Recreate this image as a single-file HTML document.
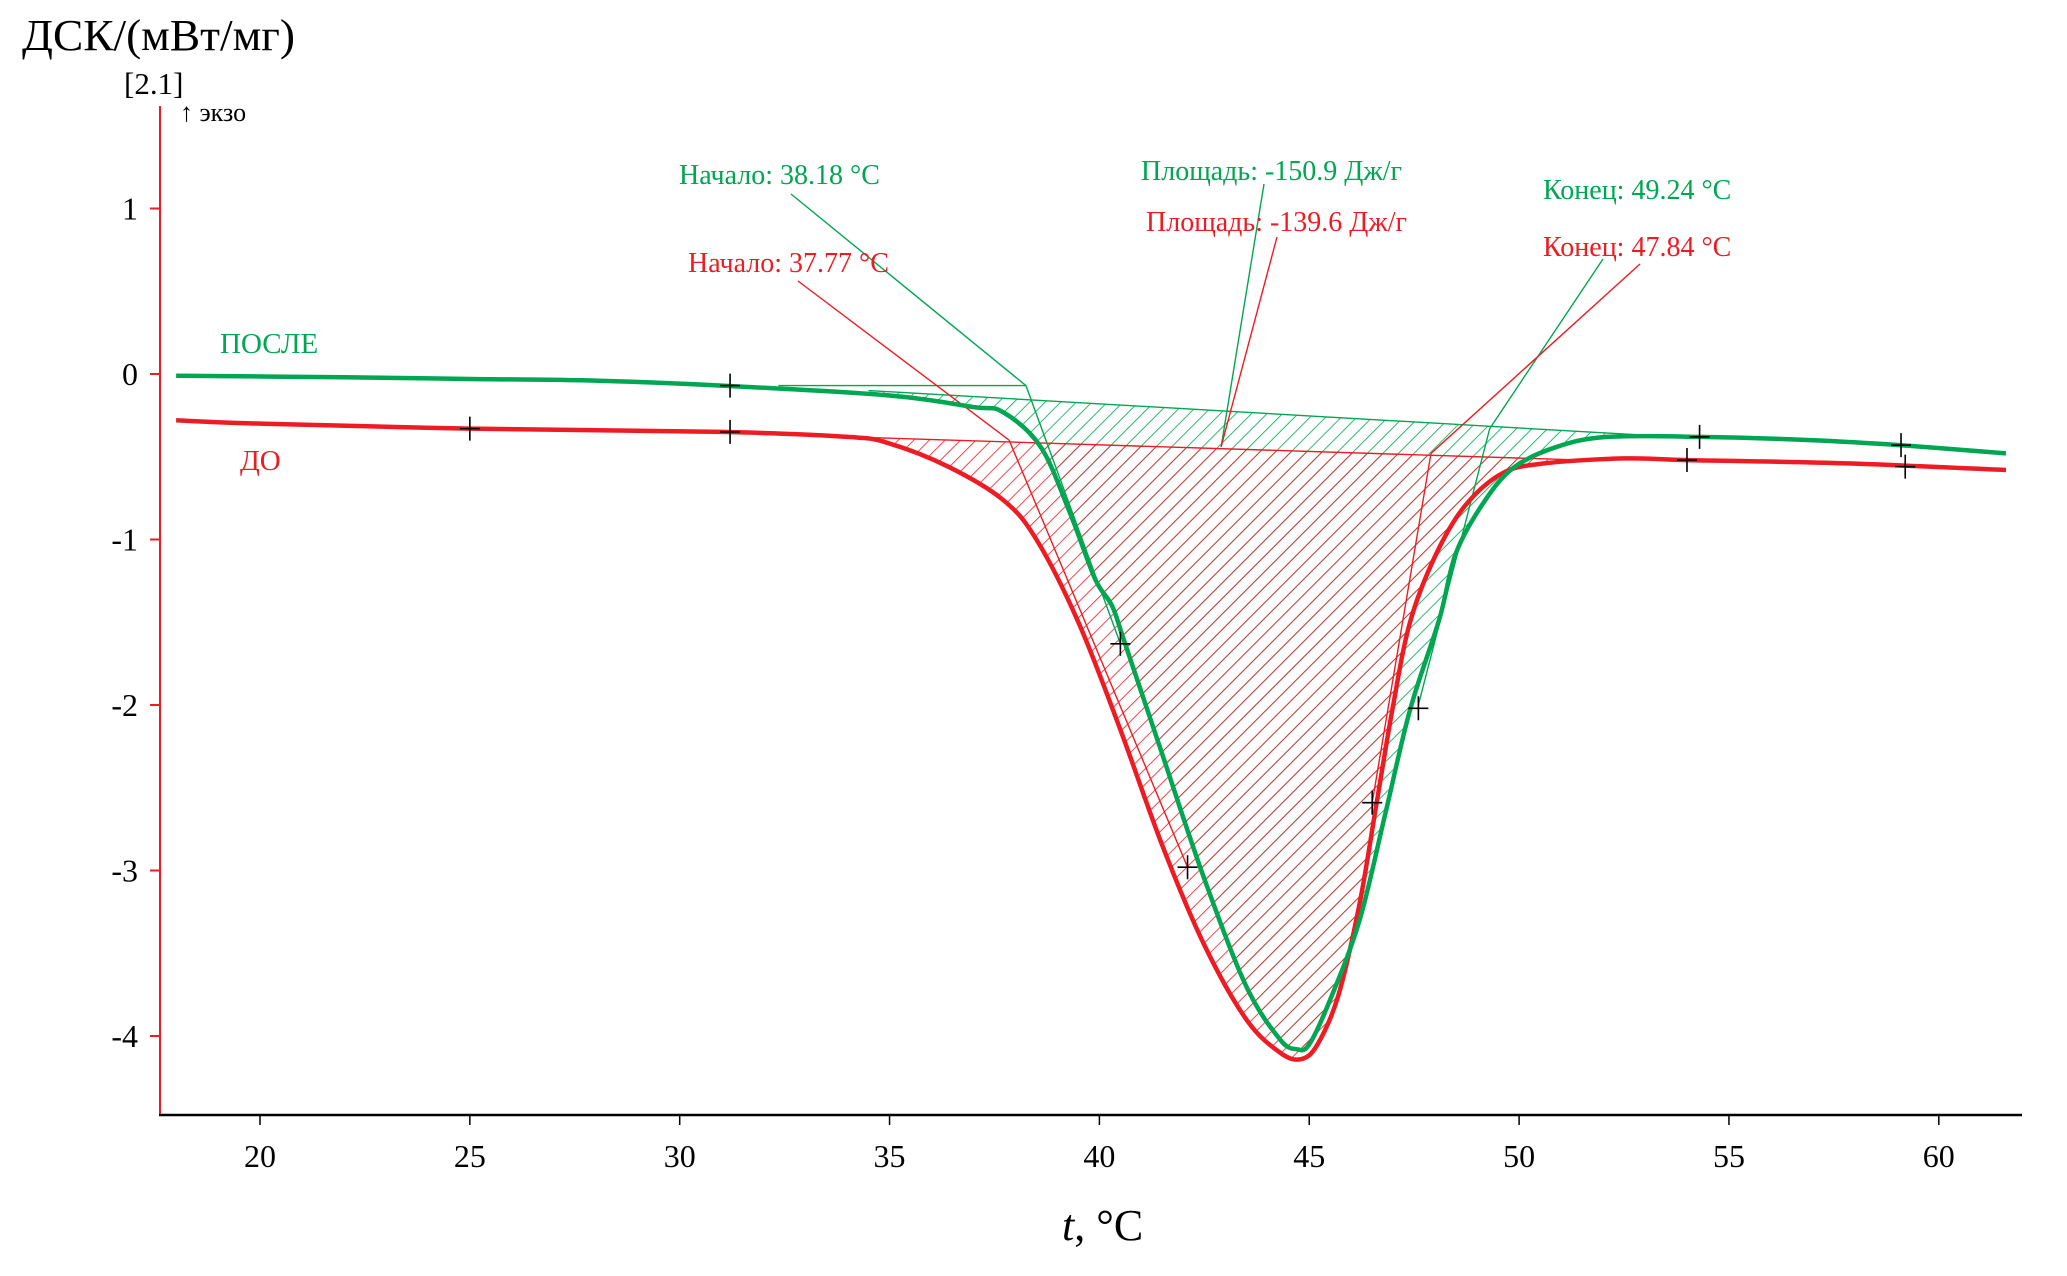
<!DOCTYPE html>
<html><head><meta charset="utf-8"><style>
html,body{margin:0;padding:0;background:#fff;}
svg{display:block;font-family:"Liberation Serif","DejaVu Serif",serif;}
</style></head><body>
<svg id="chart" width="2067" height="1276" viewBox="0 0 2067 1276" xmlns="http://www.w3.org/2000/svg">
<defs>
<pattern id="hatchG" patternUnits="userSpaceOnUse" width="11" height="11" patternTransform="rotate(45)"><line x1="0" y1="0" x2="0" y2="11" stroke="#00a651" stroke-width="1.6"/></pattern>
<pattern id="hatchR" patternUnits="userSpaceOnUse" width="11" height="11" patternTransform="rotate(45)"><line x1="0" y1="0" x2="0" y2="11" stroke="#ed1c24" stroke-width="1.6"/></pattern>
</defs>
<g id="hatch"></g>
<g id="axes"></g>
<g id="anno"></g>
<g id="curves"></g>
<text x="22" y="50" font-size="44" textLength="273" lengthAdjust="spacingAndGlyphs">ДСК/(мВт/мг)</text>
<text x="124" y="94" font-size="31">[2.1]</text>
<text x="180" y="121" font-size="26">↑ экзо</text>
<text x="1062" y="1240" font-size="44"><tspan font-style="italic">t</tspan>, °C</text>
<text x="220" y="353" font-size="29" fill="#00a651">ПОСЛЕ</text>
<text x="240" y="470" font-size="29" fill="#ed1c24">ДО</text>
<text x="679" y="184" font-size="28" fill="#00a651">Начало: 38.18 °C</text>
<text x="688" y="272" font-size="28" fill="#ed1c24">Начало: 37.77 °C</text>
<text x="1141" y="180" font-size="28" fill="#00a651">Площадь: -150.9 Дж/г</text>
<text x="1146" y="231" font-size="28" fill="#ed1c24">Площадь: -139.6 Дж/г</text>
<text x="1543" y="199" font-size="28" fill="#00a651">Конец: 49.24 °C</text>
<text x="1543" y="256" font-size="28" fill="#ed1c24">Конец: 47.84 °C</text>
</svg>
<script>
const xTicks=[20,25,30,35,40,45,50,55,60];
const yTicks=[1,0,-1,-2,-3,-4];
const afterT=[18,22,25,28,31,35,37,37.7,38.6,39.3,39.9,40.3,40.6,41.5,42.5,43.5,44.3,44.7,45.0,45.5,46.2,46.8,47.4,48.1,48.5,49.2,49.9,50.9,52.1,54.3,57,59.1,61.6];
const afterV=[-0.01,-0.02,-0.03,-0.04,-0.07,-0.13,-0.2,-0.23,-0.44,-0.84,-1.24,-1.4,-1.62,-2.3,-3.05,-3.7,-4.02,-4.08,-4.05,-3.78,-3.3,-2.67,-2.03,-1.48,-1.08,-0.76,-0.56,-0.44,-0.38,-0.38,-0.4,-0.43,-0.48];
const beforeT=[18,20,25,31,34,35,36.4,37.7,38.5,39.5,40.5,41.5,42.5,43.5,44.3,44.8,45.2,45.7,46.2,46.6,47.0,47.4,48.0,48.7,49.6,50.6,52.5,54.0,57.8,61.6];
const beforeV=[-0.28,-0.3,-0.33,-0.35,-0.38,-0.42,-0.56,-0.76,-1.0,-1.5,-2.15,-2.85,-3.45,-3.9,-4.1,-4.14,-4.05,-3.75,-3.2,-2.6,-2.0,-1.5,-1.1,-0.8,-0.6,-0.54,-0.51,-0.52,-0.54,-0.58];
const afterBase=[[34.5,-0.1],[53,-0.37]];
const beforeBase=[[34,-0.38],[51.5,-0.52]];
const afterMarks=[[31.2,-0.07],[40.5,-1.63],[47.6,-2.02],[54.3,-0.38],[59.1,-0.43]];
const beforeMarks=[[25,-0.33],[31.2,-0.35],[42.1,-2.98],[46.5,-2.59],[54.0,-0.52],[59.2,-0.56]];
const afterOnset=[[32.35,-0.07],[38.25,-0.07],[40.5,-1.63]];
const beforeOnset=[[37.85,-0.4],[42.1,-2.98]];
const afterEnd=[[49.3,-0.33],[47.6,-2.0]];
const beforeEnd=[[47.9,-0.48],[46.5,-2.59]];
const areaPoint=[42.9,-0.44];

const X=t=>260+(t-20)*41.97;
const Y=v=>374-v*165.5;
const NS='http://www.w3.org/2000/svg';
function mk(tag,attrs,parent){const e=document.createElementNS(NS,tag);for(const k in attrs)e.setAttribute(k,attrs[k]);parent.appendChild(e);return e;}
function smooth(pts){let d='M'+pts[0][0].toFixed(1)+','+pts[0][1].toFixed(1);
 for(let i=0;i<pts.length-1;i++){const p0=pts[Math.max(0,i-1)],p1=pts[i],p2=pts[i+1],p3=pts[Math.min(pts.length-1,i+2)];
  const c1=[p1[0]+(p2[0]-p0[0])/6,p1[1]+(p2[1]-p0[1])/6],c2=[p2[0]-(p3[0]-p1[0])/6,p2[1]-(p3[1]-p1[1])/6];
  d+='C'+c1.map(n=>n.toFixed(1))+' '+c2.map(n=>n.toFixed(1))+' '+p2.map(n=>n.toFixed(1));}
 return d;}
const axes=document.getElementById('axes'),curves=document.getElementById('curves'),anno=document.getElementById('anno'),hatch=document.getElementById('hatch');
let el=mk('line',{x1:160,y1:106,x2:160,y2:1115,stroke:'#ed1c24','stroke-width':2},axes);


el=mk('line',{x1:159,y1:1115,x2:2022,y2:1115,stroke:'#000','stroke-width':2.5},axes);


xTicks.forEach(t=>{
 let l=mk('line',{x1:X(t),y1:1115,x2:X(t),y2:1125,stroke:'#000','stroke-width':1.5},axes);
 
 
 let tx=mk('text',{x:X(t),y:1167,'font-size':32,'text-anchor':'middle'},axes);tx.textContent=t;
 
 
});
yTicks.forEach(v=>{
 let l=mk('line',{x1:150,y1:Y(v),x2:160,y2:Y(v),stroke:'#ed1c24','stroke-width':2},axes);
 
 
 let tx=mk('text',{x:138,y:Y(v)+11,'font-size':32,'text-anchor':'end'},axes);tx.textContent=v;
 
 
});
function region(T,V,base,fill,name){
 const pts=[];const t0=base[0][0],t1=base[1][0];
 const bl=t=>base[0][1]+(base[1][1]-base[0][1])*(t-t0)/(t1-t0);
 for(let i=0;i<T.length;i++){if(T[i]>=t0&&T[i]<=t1)pts.push([X(T[i]),Y(V[i])]);}
 const d=smooth([[X(t0),Y(bl(t0))],...pts,[X(t1),Y(bl(t1))]])+'Z';
 const p=mk('path',{d:d,fill:fill,stroke:'none'},hatch);
 
 
}
region(afterT,afterV,afterBase,'url(#hatchG)','area-hatch-after');
region(beforeT,beforeV,beforeBase,'url(#hatchR)','area-hatch-before');
function pl(pts,color,name){const p=mk('polyline',{points:pts.map(q=>X(q[0])+','+Y(q[1])).join(' '),fill:'none',stroke:color,'stroke-width':1.4},anno);
 
 }
pl(afterBase,'#00a651','baseline-after');
pl(beforeBase,'#ed1c24','baseline-before');
pl(afterOnset,'#00a651','onset-tangent-after');
pl(beforeOnset,'#ed1c24','onset-tangent-before');
pl(afterEnd,'#00a651','end-tangent-after');
pl(beforeEnd,'#ed1c24','end-tangent-before');
function leader(x,y,pt,color,name){const l=mk('line',{x1:x,y1:y,x2:X(pt[0]),y2:Y(pt[1]),stroke:color,'stroke-width':1.4},anno);
 
 }
leader(791,194,afterOnset[1],'#00a651','onset-leader-after');
leader(798,281,beforeOnset[0],'#ed1c24','onset-leader-before');
leader(1264,184,areaPoint,'#00a651','area-leader-after');
leader(1277,237,areaPoint,'#ed1c24','area-leader-before');
leader(1603,259,afterEnd[0],'#00a651','end-leader-after');
leader(1640,264,beforeEnd[0],'#ed1c24','end-leader-before');
let c=mk('path',{d:smooth(beforeT.map((t,i)=>[X(t),Y(beforeV[i])])),fill:'none',stroke:'#ed1c24','stroke-width':4.5},curves);


c=mk('path',{d:smooth(afterT.map((t,i)=>[X(t),Y(afterV[i])])),fill:'none',stroke:'#00a651','stroke-width':4.5},curves);


function marks(list,name){list.forEach(m=>{const x=X(m[0]),y=Y(m[1]);
 const g=mk('path',{d:`M${x},${y-12}V${y+12}M${x-10},${y}H${x+10}`,stroke:'#000','stroke-width':1.6},curves);
 
 });}
marks(afterMarks,'marker-after');
marks(beforeMarks,'marker-before');
</script>
</body></html>
